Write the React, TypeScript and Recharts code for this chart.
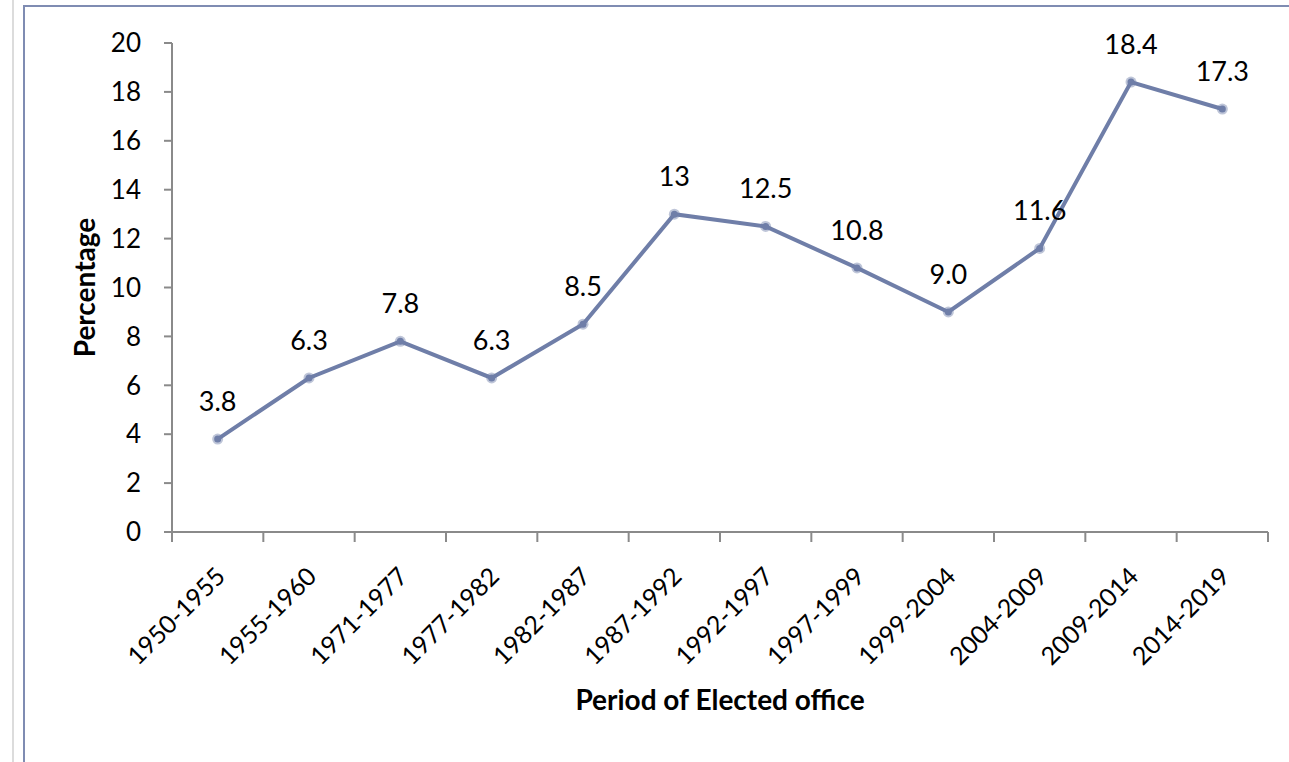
import { LineChart, Line, XAxis, YAxis, LabelList } from 'recharts'

const periods = [
  '1950-1955', '1955-1960', '1971-1977', '1977-1982', '1982-1987', '1987-1992',
  '1992-1997', '1997-1999', '1999-2004', '2004-2009', '2009-2014', '2014-2019',
]
const percentages = [3.8, 6.3, 7.8, 6.3, 8.5, 13, 12.5, 10.8, 9.0, 11.6, 18.4, 17.3]
const valueLabels = ['3.8', '6.3', '7.8', '6.3', '8.5', '13', '12.5', '10.8', '9.0', '11.6', '18.4', '17.3']
const yTicks = [0, 2, 4, 6, 8, 10, 12, 14, 16, 18, 20]

const data = periods.map((p, i) => ({ period: p, value: percentages[i], label: valueLabels[i] }))

const FONT = 'Lato, "Open Sans", sans-serif'
const LINE = '#6f7ea8'
const AXIS = '#8a8a8a'

const W = 1289
const H = 762
const PLOT_LEFT = 172
const PLOT_RIGHT = 1268
const AXIS_Y = 532
const HALF = (PLOT_RIGHT - PLOT_LEFT) / periods.length / 2

function PeriodTick(props: any) {
  const { x, payload, index } = props
  const last = index === periods.length - 1
  const ax = x + 9
  const ay = AXIS_Y + 46
  return (
    <g>
      <line x1={x - HALF} y1={AXIS_Y} x2={x - HALF} y2={AXIS_Y + 10} stroke={AXIS} strokeWidth={2} />
      {last && <line x1={x + HALF} y1={AXIS_Y} x2={x + HALF} y2={AXIS_Y + 10} stroke={AXIS} strokeWidth={2} />}
      <text
        x={ax}
        y={ay}
        textAnchor="end"
        transform={`rotate(-45 ${ax} ${ay})`}
        fontSize={25}
        fontFamily={FONT}
        fill="#000"
      >
        {payload.value}
      </text>
    </g>
  )
}

function Dot(props: any) {
  const { cx, cy } = props
  return (
    <g>
      <circle cx={cx} cy={cy} r={5.5} fill={LINE} opacity={0.45} />
      <circle cx={cx} cy={cy} r={3.5} fill={LINE} />
    </g>
  )
}

export default function App() {
  return (
    <div style={{ position: 'fixed', left: 0, top: 0, width: W, height: H, background: '#fff', overflow: 'hidden' }}>
      <div style={{ position: 'absolute', left: 12, top: 0, width: 2, height: H, background: '#dcdcdc' }} />
      <div
        style={{
          position: 'absolute', left: 23, top: 5, width: W, height: H + 20,
          border: '2px solid #7f8cb2', boxSizing: 'border-box',
        }}
      />
      <div style={{ position: 'absolute', left: 0, top: 0 }}>
        <LineChart width={W} height={H} data={data} margin={{ top: 43, right: W - PLOT_RIGHT, left: 0, bottom: 0 }}>
          <XAxis
            dataKey="period"
            height={H - AXIS_Y}
            interval={0}
            padding={{ left: HALF, right: HALF }}
            tickLine={false}
            axisLine={{ stroke: AXIS, strokeWidth: 2 }}
            tick={<PeriodTick />}
            label={{
              value: 'Period of Elected office', position: 'insideTop', offset: 158,
              style: { fontSize: 28, fontWeight: 700, fontFamily: FONT, fill: '#000' },
            }}
          />
          <YAxis
            width={PLOT_LEFT}
            domain={[0, 20]}
            ticks={yTicks}
            interval={0}
            tickSize={8}
            tickMargin={23}
            axisLine={{ stroke: AXIS, strokeWidth: 2 }}
            tickLine={{ stroke: AXIS, strokeWidth: 2 }}
            tick={{ fontSize: 26, fontFamily: FONT, fill: '#000' }}
            label={{
              value: 'Percentage', angle: -90, position: 'insideLeft', offset: 85,
              style: { fontSize: 28, fontWeight: 700, fontFamily: FONT, fill: '#000', textAnchor: 'middle' },
            }}
          />
          <Line
            type="linear"
            dataKey="value"
            stroke={LINE}
            strokeWidth={4}
            dot={<Dot />}
            activeDot={false}
            isAnimationActive={false}
          >
            <LabelList
              dataKey="label"
              position="top"
              offset={28}
              style={{ fontSize: 27, fontFamily: FONT, fill: '#000' }}
            />
          </Line>
        </LineChart>
      </div>
    </div>
  )
}
